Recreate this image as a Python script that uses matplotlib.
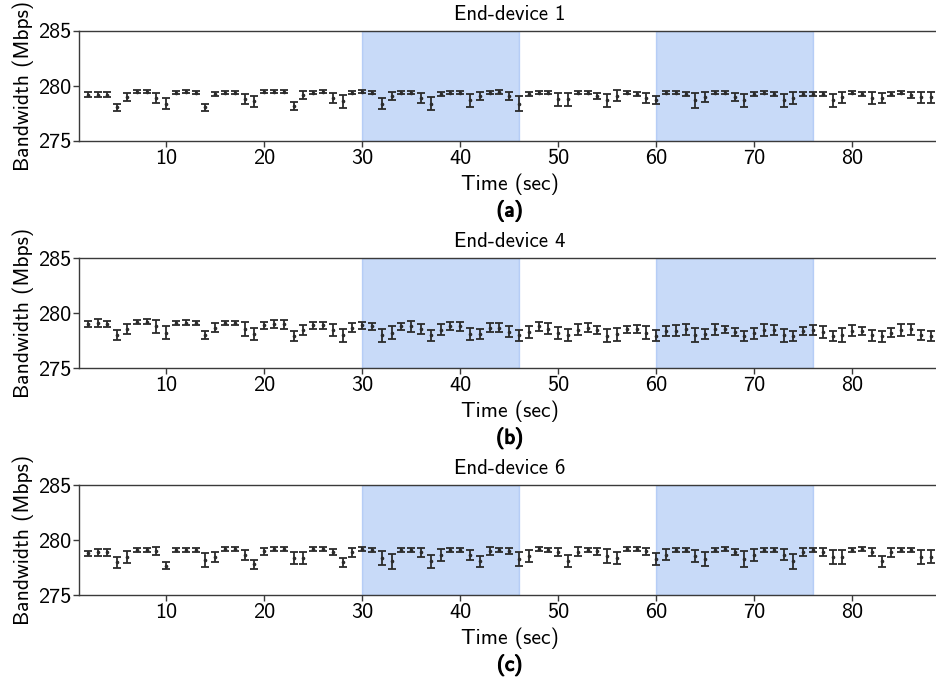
import matplotlib
matplotlib.use("Agg")
import matplotlib.pyplot as plt
import matplotlib.patheffects as pe

plt.rcParams["font.family"] = ["cmss10", "DejaVu Sans"]
plt.rcParams["axes.unicode_minus"] = False
plt.rcParams["mathtext.fontset"] = "cm"

time_s = list(range(2, 89))

dev1_mean = [279.2, 279.2, 279.2, 278.06, 279.0, 279.5, 279.5, 278.9, 278.4, 279.4,
             279.5, 279.4, 278.06, 279.3, 279.4, 279.4, 278.8, 278.6, 279.5, 279.5,
             279.5, 278.2, 279.2, 279.4, 279.5, 278.9, 278.6, 279.4, 279.5, 279.4,
             278.4, 279.1, 279.4, 279.4, 278.9, 278.4, 279.3, 279.4, 279.4, 278.7,
             279.1, 279.4, 279.45, 279.1, 278.4, 279.3, 279.4, 279.4, 278.8, 278.8,
             279.4, 279.4, 279.1, 278.7, 279.1, 279.4, 279.3, 278.9, 278.7, 279.4,
             279.4, 279.3, 278.7, 279.0, 279.4, 279.4, 279.0, 278.7, 279.3, 279.4,
             279.3, 278.7, 278.9, 279.3, 279.3, 279.3, 278.7, 279.0, 279.4, 279.3,
             278.9, 278.9, 279.3, 279.4, 279.2, 279.0, 279.0]
dev1_err = [0.21, 0.21, 0.21, 0.33, 0.33, 0.15, 0.15, 0.45, 0.5, 0.15,
            0.15, 0.15, 0.33, 0.18, 0.15, 0.15, 0.47, 0.48, 0.15, 0.15,
            0.15, 0.38, 0.35, 0.15, 0.15, 0.48, 0.56, 0.15, 0.15, 0.15,
            0.5, 0.33, 0.15, 0.15, 0.48, 0.58, 0.18, 0.15, 0.15, 0.6,
            0.4, 0.15, 0.15, 0.33, 0.7, 0.18, 0.15, 0.15, 0.6, 0.6,
            0.15, 0.15, 0.3, 0.6, 0.5, 0.15, 0.18, 0.48, 0.38, 0.15,
            0.15, 0.2, 0.7, 0.48, 0.15, 0.15, 0.36, 0.6, 0.2, 0.15,
            0.2, 0.6, 0.55, 0.18, 0.18, 0.2, 0.6, 0.5, 0.15, 0.18,
            0.55, 0.48, 0.18, 0.15, 0.3, 0.5, 0.5]

dev4_mean = [279.03, 279.1, 279.03, 278.03, 278.6, 279.2, 279.25, 278.8, 278.25, 279.1,
             279.15, 279.1, 278.03, 278.7, 279.1, 279.1, 278.55, 278.1, 278.9, 279.0,
             279.0, 277.95, 278.5, 278.9, 278.9, 278.5, 278.0, 278.7, 278.9, 278.8,
             278.0, 278.25, 278.8, 278.8, 278.6, 278.0, 278.5, 278.85, 278.8, 278.1,
             278.1, 278.7, 278.7, 278.3, 278.0, 278.3, 278.8, 278.6, 278.2, 278.0,
             278.5, 278.7, 278.5, 277.95, 278.1, 278.55, 278.6, 278.25, 277.95, 278.4,
             278.4, 278.55, 278.0, 278.1, 278.55, 278.55, 278.3, 277.95, 278.2, 278.5,
             278.5, 278.0, 277.95, 278.4, 278.5, 278.3, 277.95, 278.0, 278.4, 278.4,
             278.0, 277.9, 278.25, 278.5, 278.55, 278.0, 277.95]
dev4_err = [0.3, 0.36, 0.3, 0.42, 0.45, 0.2, 0.2, 0.55, 0.6, 0.2,
            0.2, 0.2, 0.4, 0.4, 0.2, 0.2, 0.65, 0.52, 0.35, 0.38,
            0.42, 0.45, 0.45, 0.35, 0.35, 0.55, 0.6, 0.4, 0.35, 0.36,
            0.6, 0.58, 0.36, 0.53, 0.45, 0.48, 0.5, 0.4, 0.45, 0.53,
            0.48, 0.42, 0.4, 0.5, 0.48, 0.55, 0.45, 0.5, 0.55, 0.56,
            0.5, 0.42, 0.36, 0.58, 0.6, 0.33, 0.35, 0.58, 0.5, 0.45,
            0.5, 0.5, 0.65, 0.45, 0.5, 0.33, 0.4, 0.45, 0.5, 0.55,
            0.45, 0.6, 0.45, 0.4, 0.45, 0.55, 0.48, 0.65, 0.5, 0.4,
            0.5, 0.5, 0.4, 0.55, 0.5, 0.45, 0.45]

dev6_mean = [278.8, 278.9, 278.9, 278.0, 278.5, 279.1, 279.1, 279.0, 277.7, 279.1,
             279.1, 279.1, 278.2, 278.5, 279.2, 279.2, 278.7, 277.8, 279.0, 279.2,
             279.2, 278.4, 278.4, 279.2, 279.2, 278.95, 278.0, 278.9, 279.2, 279.1,
             278.4, 278.1, 279.1, 279.1, 278.9, 278.1, 278.7, 279.1, 279.1, 278.7,
             278.1, 279.0, 279.1, 279.0, 278.3, 278.6, 279.2, 279.1, 278.9, 278.1,
             278.95, 279.1, 279.0, 278.6, 278.4, 279.2, 279.2, 279.0, 278.3, 278.7,
             279.1, 279.1, 278.6, 278.3, 279.1, 279.2, 278.95, 278.3, 278.7, 279.1,
             279.1, 278.7, 278.1, 278.95, 279.1, 278.95, 278.5, 278.5, 279.1, 279.2,
             278.9, 278.1, 278.9, 279.1, 279.1, 278.5, 278.5]
dev6_err = [0.26, 0.3, 0.3, 0.5, 0.53, 0.2, 0.2, 0.35, 0.3, 0.2,
            0.2, 0.2, 0.6, 0.45, 0.18, 0.18, 0.45, 0.38, 0.3, 0.18,
            0.18, 0.55, 0.55, 0.18, 0.18, 0.27, 0.4, 0.4, 0.18, 0.18,
            0.6, 0.67, 0.18, 0.18, 0.4, 0.58, 0.55, 0.18, 0.18, 0.45,
            0.5, 0.35, 0.18, 0.27, 0.6, 0.55, 0.18, 0.18, 0.36, 0.56,
            0.4, 0.18, 0.3, 0.63, 0.56, 0.18, 0.18, 0.3, 0.55, 0.48,
            0.18, 0.18, 0.53, 0.6, 0.18, 0.18, 0.3, 0.7, 0.55, 0.18,
            0.18, 0.48, 0.67, 0.36, 0.18, 0.36, 0.65, 0.63, 0.18, 0.18,
            0.36, 0.5, 0.4, 0.18, 0.18, 0.65, 0.6]

titles = ["End-device 1", "End-device 4", "End-device 6"]
panel_tags = ["(a)", "(b)", "(c)"]
means = [dev1_mean, dev4_mean, dev6_mean]
errs = [dev1_err, dev4_err, dev6_err]

attack_windows = [(30, 46), (60, 76)]
x_ticks = [10, 20, 30, 40, 50, 60, 70, 80]
y_ticks = [275, 280, 285]

W, H = 936, 677
fig = plt.figure(figsize=(W / 100, H / 100), dpi=100)

ax_left = 79
ax_w = 861.4
ax_h = 110
ax_tops = [31, 258.3, 485.3]

ink = "#2b2b2b"
spine_c = "#3a3a3a"

for i in range(3):
    top = ax_tops[i]
    ax = fig.add_axes([ax_left / W, 1 - (top + ax_h) / H, ax_w / W, ax_h / H])
    for lo, hi in attack_windows:
        ax.axvspan(lo, hi, facecolor="cornflowerblue", alpha=0.35,
                   edgecolor="cornflowerblue", linewidth=1.0, zorder=0)
    ax.errorbar(time_s, means[i], yerr=errs[i], fmt="o", markersize=1.6,
                color=ink, ecolor=ink, elinewidth=1.3, capsize=2.6,
                capthick=1.3, zorder=3)
    ax.set_xlim(1.1, 89)
    ax.set_ylim(275, 285)
    ax.set_xticks(x_ticks)
    ax.set_yticks(y_ticks)
    for s in ax.spines.values():
        s.set_color(spine_c)
        s.set_linewidth(1.0)
    ax.tick_params(axis="both", labelsize=16, color=spine_c, length=4,
                   width=1.0, pad=1.5)
    ax.set_xlabel("Time (sec)", fontsize=15.5, labelpad=4)
    ax.set_ylabel("Bandwidth (Mbps)", fontsize=15.5, labelpad=3)
    ax.set_title(titles[i], fontsize=15, pad=8)
    ax.annotate(panel_tags[i], xy=(0.5, 0), xycoords="axes fraction",
                xytext=(0, -50), textcoords="offset points",
                ha="center", va="center", fontsize=15, color="black",
                path_effects=[pe.withStroke(linewidth=0.9, foreground="black")])

fig.savefig("out.png", dpi=100)
